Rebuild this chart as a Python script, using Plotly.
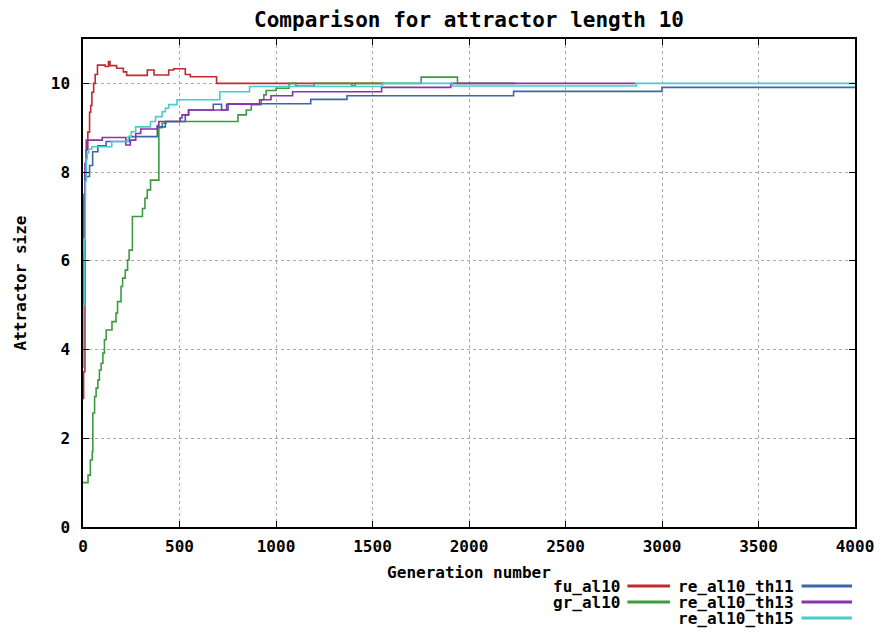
import plotly.graph_objects as go

# ---- data (generation, attractor size), step-wise series ----
fu_x = [0, 3, 10, 17, 25, 34, 40, 46, 55, 63, 75, 115, 132, 140, 174, 209, 226, 333, 368, 444, 470, 530, 556, 692, 1560]
fu_y = [2.9, 3.5, 8.0, 8.5, 8.9, 9.35, 9.5, 9.8, 10.0, 10.2, 10.41, 10.38, 10.49, 10.4, 10.34, 10.26, 10.18, 10.3, 10.19, 10.3, 10.33, 10.2, 10.15, 10.0, 10.0]

gr_x = [0, 26, 38, 48, 51, 60, 68, 77, 85, 94, 103, 111, 120, 150, 171, 179, 197, 205, 219, 231, 239, 256, 308, 321, 333, 350,
        393, 410, 430, 803, 846, 872, 923, 937, 949, 1000, 1068, 1103, 1197, 1393, 1410, 1453, 1752, 1940, 2240]
gr_y = [1.0, 1.17, 1.51, 1.7, 2.57, 2.94, 3.13, 3.31, 3.54, 3.69, 3.92, 4.22, 4.44, 4.63, 4.82, 5.08, 5.42, 5.61, 5.79, 6.02, 6.24, 7.0, 7.18, 7.41, 7.6, 7.82,
        9.0, 9.1, 9.14, 9.29, 9.4, 9.52, 9.63, 9.74, 9.84, 9.89, 10.0, 9.94, 10.0, 9.94, 10.0, 10.0, 10.14, 10.0, 10.0]

th11_x = [0, 3, 6, 12, 34, 50, 77, 120, 240, 385, 427, 530, 547, 675, 718, 752, 1180, 1368, 2231, 3000, 4000]
th11_y = [5.0, 6.2, 7.4, 7.9, 8.15, 8.46, 8.59, 8.69, 8.8, 9.02, 9.14, 9.29, 9.4, 9.53, 9.4, 9.54, 9.64, 9.72, 9.82, 9.91, 9.91]

th13_x = [0, 5, 10, 17, 100, 222, 245, 273, 299, 385, 393, 504, 513, 547, 744, 915, 974, 1086, 1547, 1906, 2862]
th13_y = [6.5, 7.5, 8.2, 8.72, 8.78, 8.61, 8.72, 8.87, 8.97, 9.05, 9.14, 9.22, 9.29, 9.4, 9.53, 9.63, 9.72, 9.81, 9.91, 10.0, 10.0]

th15_x = [0, 2, 6, 12, 17, 22, 30, 46, 149, 234, 250, 273, 350, 376, 410, 427, 444, 487, 709, 863, 1550, 1913, 2867, 4000]
th15_y = [3.6, 5.0, 6.5, 7.8, 8.3, 8.43, 8.52, 8.57, 8.69, 8.8, 8.91, 9.02, 9.14, 9.25, 9.36, 9.44, 9.52, 9.63, 9.81, 9.93, 10.0, 9.94, 10.0, 10.0]

names = ["fu_al10", "gr_al10", "re_al10_th11", "re_al10_th13", "re_al10_th15"]
colors = ["#c02a2c", "#3c9c3c", "#3a68a6", "#8a32a8", "#48cccc"]
series = [(fu_x, fu_y), (gr_x, gr_y), (th11_x, th11_y), (th13_x, th13_y), (th15_x, th15_y)]

x_ticks = [0, 500, 1000, 1500, 2000, 2500, 3000, 3500, 4000]
y_ticks = [0, 2, 4, 6, 8, 10]

FONT = "DejaVu Sans Mono"

fig = go.Figure()
for (xs, ys), nm, col in zip(series, names, colors):
    fig.add_trace(go.Scatter(x=xs, y=ys, mode="lines", name=nm, line=dict(color=col, width=1.6, shape="hv"),
                             showlegend=False, cliponaxis=True))

# page has an 8px body margin; figure is sized so that the plot area sits at x 80..860, y 39..527
fig.update_layout(
    width=878, height=634,
    margin=dict(l=72, r=26, t=31, b=115),
    plot_bgcolor="white", paper_bgcolor="white",
    title=dict(text="<b>Comparison for attractor length 10</b>", x=0.5, xref="paper", xanchor="center",
               y=0.981, yanchor="middle", font=dict(family=FONT, size=21, color="black")),
    font=dict(family=FONT, color="black"),
)

axis_common = dict(showline=True, linecolor="black", linewidth=1.5, mirror="ticks", ticks="inside", ticklen=6,
                   tickcolor="black", showgrid=True, gridcolor="#a8a8a8", griddash="dot", gridwidth=1, zeroline=False,
                   tickfont=dict(family=FONT, size=16, color="black"))

fig.update_xaxes(range=[0, 4000], tickvals=x_ticks, ticktext=[f"<b>{v}</b>" for v in x_ticks], ticklabelstandoff=4,
                 title=dict(text="<b>Generation number</b>", font=dict(family=FONT, size=16), standoff=12), **axis_common)
fig.update_yaxes(range=[0, 11], tickvals=y_ticks, ticktext=[f"<b>{v}</b>" for v in y_ticks], ticklabelstandoff=8,
                 title=dict(text="<b>Attractor size</b>", font=dict(family=FONT, size=16), standoff=20), **axis_common)

# gnuplot-style legend: text right-aligned, line sample to the right (positions in page pixels)
L, R, T, B = 80, 860, 39, 527
leg_cols = [(624, 630, 673), (799, 806, 857)]
leg_rows = [586, 602, 618]
placement = [(0, 0), (0, 1), (1, 0), (1, 1), (1, 2)]


def px(v):
    return (v - L) / (R - L)


def py(v):
    return (B - v) / (B - T)


for (ci, ri), nm, col in zip(placement, names, colors):
    tx, sx0, sx1 = leg_cols[ci]
    yy = leg_rows[ri]
    fig.add_annotation(x=px(tx), y=py(yy), xref="paper", yref="paper", xanchor="right", yanchor="middle",
                       text=f"<b>{nm}</b>", showarrow=False, borderpad=0,
                       font=dict(family=FONT, size=16, color="black"))
    fig.add_shape(type="line", xref="paper", yref="paper", x0=px(sx0), x1=px(sx1), y0=py(yy), y1=py(yy),
                  line=dict(color=col, width=3))

fig.write_html("out.html")
